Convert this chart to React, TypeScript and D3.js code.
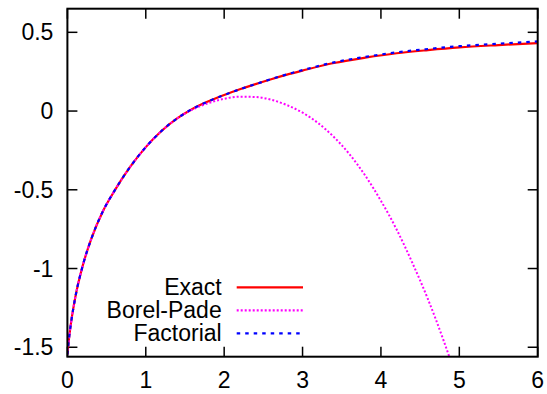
import React from "react";
import * as d3 from "d3";

// values
const xs = [0, 0.025, 0.05, 0.1, 0.2, 0.3, 0.45, 0.6, 0.8, 1.0, 1.2, 1.4, 1.6, 1.8, 2.0, 2.2, 2.4, 2.6, 2.8, 3.0, 3.4, 3.8, 4.2, 4.6, 5.0, 5.5, 6.0];
const exact = [-1.545, -1.425, -1.332, -1.185, -0.974, -0.818, -0.639, -0.507, -0.355, -0.229, -0.127, -0.047, 0.015, 0.062, 0.102, 0.138, 0.171, 0.202, 0.231, 0.257, 0.305, 0.339, 0.367, 0.387, 0.404, 0.419, 0.432];
const factorial = [-1.545, -1.425, -1.332, -1.185, -0.974, -0.818, -0.639, -0.507, -0.355, -0.229, -0.127, -0.047, 0.015, 0.062, 0.102, 0.138, 0.171, 0.203, 0.233, 0.26, 0.309, 0.344, 0.373, 0.394, 0.412, 0.428, 0.442];

const bpX = [0, 0.025, 0.05, 0.1, 0.2, 0.3, 0.45, 0.6, 0.8, 1.0, 1.2, 1.4, 1.6, 1.8, 2.0, 2.2, 2.4, 2.6, 2.8, 3.0, 3.2, 3.4, 3.6, 3.8, 4.0, 4.2, 4.4, 4.6, 4.8, 5.0];
const borelPade = [-1.545, -1.425, -1.332, -1.185, -0.974, -0.818, -0.639, -0.507, -0.355, -0.229, -0.127, -0.047, 0.011, 0.05, 0.078, 0.091, 0.089, 0.072, 0.038, -0.01, -0.077, -0.165, -0.275, -0.41, -0.57, -0.752, -0.963, -1.195, -1.458, -1.75];

const xTicks = [0, 1, 2, 3, 4, 5, 6];
const yTicks = [-1.5, -1, -0.5, 0, 0.5];

const legend = [
  { label: "Exact", color: "#ff0000", dash: null },
  { label: "Borel-Pade", color: "#ff00ff", dash: "2,2" },
  { label: "Factorial", color: "#0000ff", dash: "3.5,5" },
];

const W = 547, H = 394;
const left = 67.4, right = 537.7, top = 8.7, bottom = 356.7;
const font = "'Liberation Sans', Arial, sans-serif";

export default function App() {
  const x = d3.scaleLinear().domain([0, 6]).range([left, right]);
  const y = d3.scaleLinear().domain([-1.56, 0.65]).range([bottom, top]);

  const line = d3.line<[number, number]>()
    .x(d => x(d[0]))
    .y(d => y(d[1]))
    .curve(d3.curveMonotoneX);

  const exactPath = line(xs.map((v, i) => [v, exact[i]]));
  const factPath = line(xs.map((v, i) => [v, factorial[i]]));
  const bpPath = line(bpX.map((v, i) => [v, borelPade[i]]));

  const tl = 10;

  return (
    <svg width={W} height={H} style={{ position: "absolute", left: 0, top: 0, background: "#fff" }}>
      <defs>
        <clipPath id="plot">
          <rect x={left} y={top} width={right - left} height={bottom - top} />
        </clipPath>
      </defs>

      {/* ticks */}
      <g stroke="#000" strokeWidth={1.5}>
        {xTicks.map(t => (
          <g key={"x" + t}>
            <line x1={x(t)} x2={x(t)} y1={bottom} y2={bottom - tl} />
            <line x1={x(t)} x2={x(t)} y1={top} y2={top + tl} />
          </g>
        ))}
        {yTicks.map(t => (
          <g key={"y" + t}>
            <line x1={left} x2={left + tl} y1={y(t)} y2={y(t)} />
            <line x1={right} x2={right - tl} y1={y(t)} y2={y(t)} />
          </g>
        ))}
      </g>

      {/* tick labels */}
      <g fontFamily={font} fontSize={23} fill="#000">
        {xTicks.map(t => (
          <text key={"xl" + t} x={x(t)} y={bottom + 23} dy="0.35em" textAnchor="middle">{t}</text>
        ))}
        {yTicks.map(t => (
          <text key={"yl" + t} x={left - 14} y={y(t)} dy="0.35em" textAnchor="end">{t}</text>
        ))}
      </g>

      {/* curves */}
      <g clipPath="url(#plot)" fill="none">
        <path d={exactPath || ""} stroke="#ff0000" strokeWidth={2.2} />
        <path d={bpPath || ""} stroke="#ff00ff" strokeWidth={2} strokeDasharray="2,2" />
        <path d={factPath || ""} stroke="#0000ff" strokeWidth={2.2} strokeDasharray="3.5,5" />
      </g>

      {/* legend */}
      <g fontFamily={font} fontSize={23}>
        {legend.map((l, i) => {
          const ly = 287.3 + i * 23;
          return (
            <g key={l.label}>
              <text x={221.7} y={ly} dy="0.35em" textAnchor="end">{l.label}</text>
              <line x1={236.7} x2={303} y1={ly} y2={ly} stroke={l.color} strokeWidth={2.2}
                strokeDasharray={l.dash || undefined} />
            </g>
          );
        })}
      </g>

      {/* frame */}
      <rect x={left} y={top} width={right - left} height={bottom - top} fill="none" stroke="#000" strokeWidth={2} />
    </svg>
  );
}
